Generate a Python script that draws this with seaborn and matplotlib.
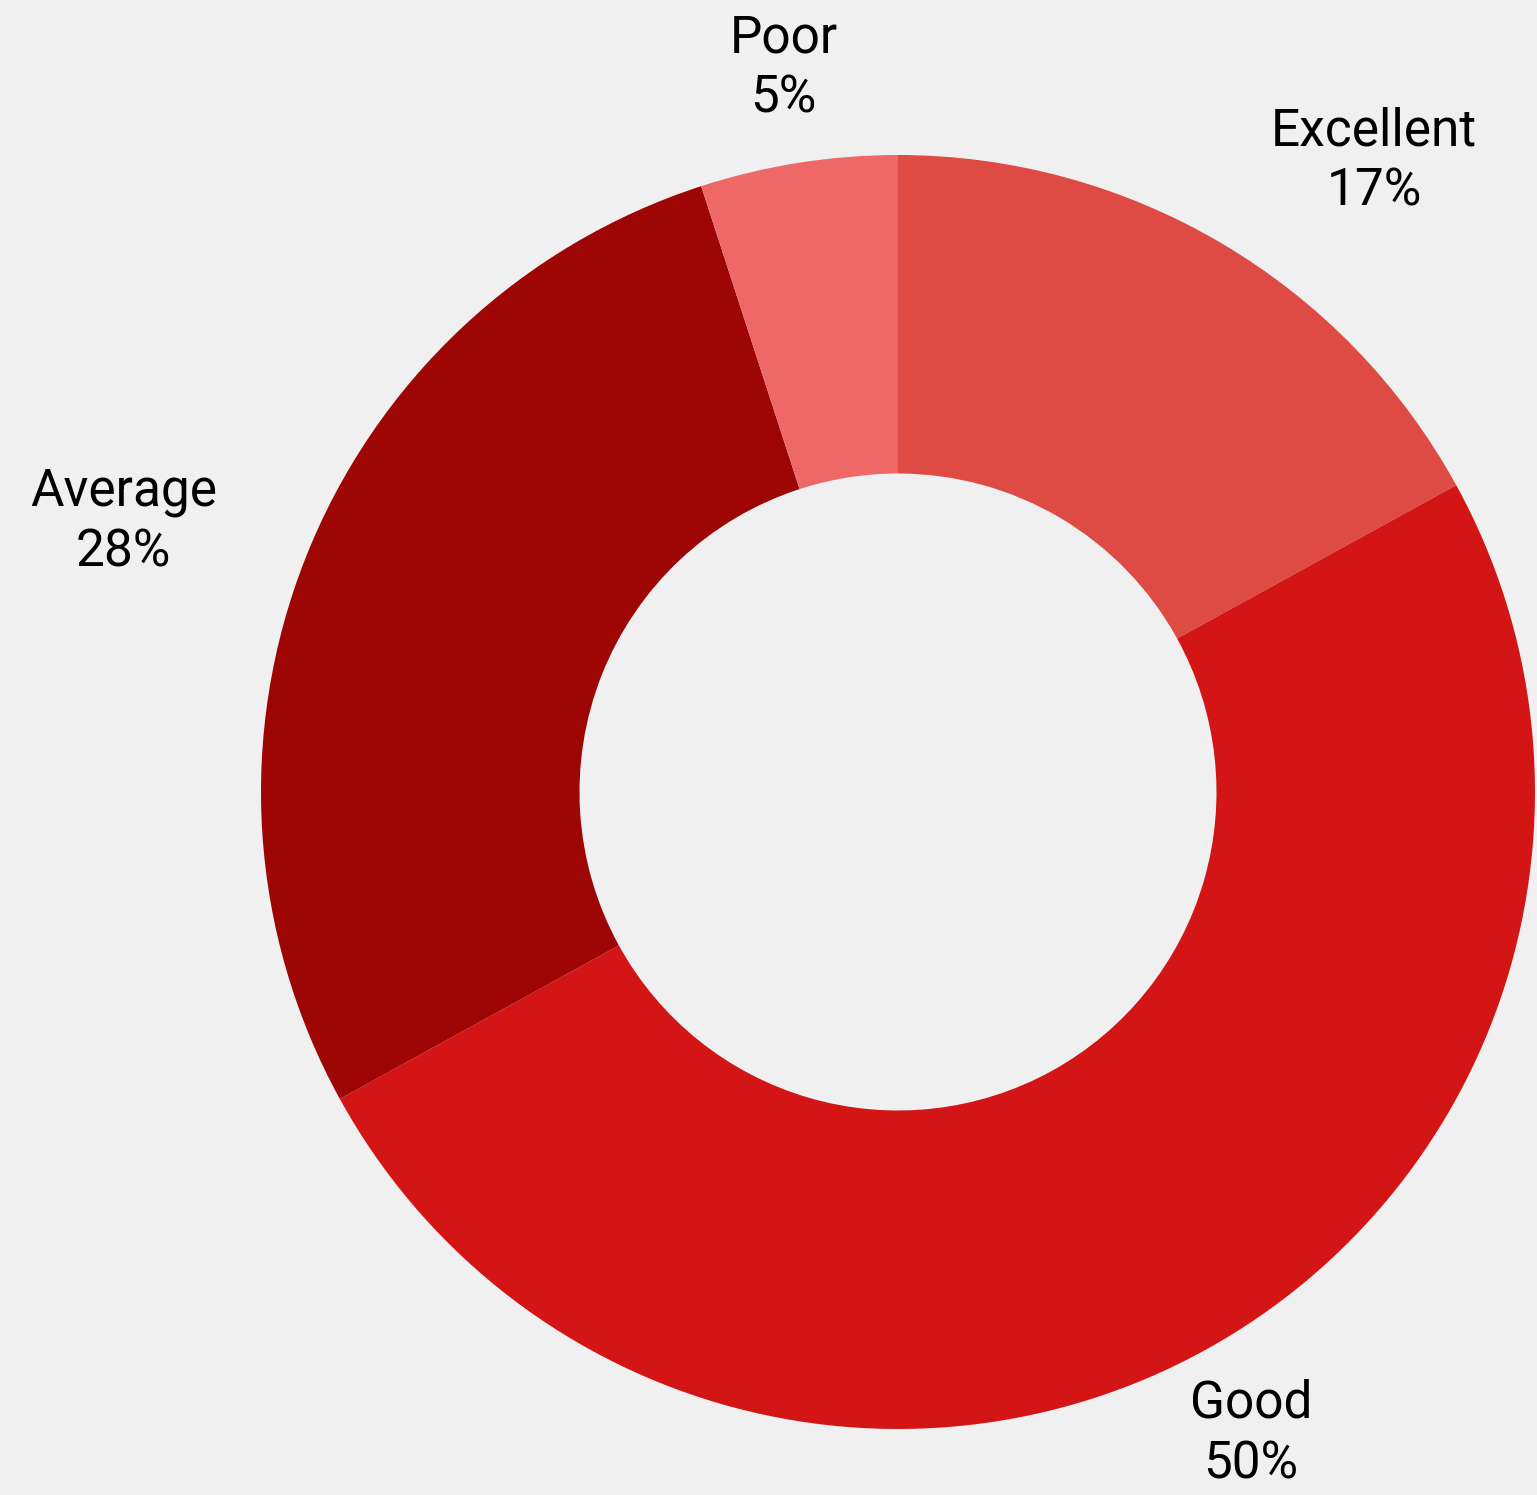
import numpy as np
import pandas as pd
import matplotlib
matplotlib.use("Agg")
import matplotlib.pyplot as plt
import seaborn as sns

# ── Data ───────────────────────────────────────────────────────────────────────
categories = ["Excellent", "Good", "Average", "Poor"]
shares     = [17, 50, 28, 5]
colors     = ["#DD4B44", "#D31515", "#9E0505", "#EF6868"]

BG = "#F0F0F0"

sns.set_theme(style="white")
plt.rcParams["font.family"] = ["Roboto", "DejaVu Sans"]

df = pd.DataFrame({"category": categories, "share": shares, "color": colors})

fig = plt.figure(figsize=(15.37, 14.95), dpi=100, facecolor=BG)
ax = fig.add_axes([0, 0, 1, 1])
ax.set_facecolor(BG)

wedges, _ = ax.pie(df["share"], colors=df["color"], startangle=90,
                   counterclock=False, radius=1.0,
                   wedgeprops={"width": 0.5, "linewidth": 0})

# outside labels, aligned by side
for w, cat, val in zip(wedges, df["category"], df["share"]):
    mid = np.deg2rad((w.theta1 + w.theta2) / 2)
    c, s = np.cos(mid), np.sin(mid)
    ha = "left" if c > 0.5 else ("right" if c < -0.5 else "center")
    ax.text(1.15 * c, 1.15 * s, f"{cat}\n{val}%", ha=ha, va="center",
            multialignment="center", fontsize=37, linespacing=1.27,
            color="black")

# place the pie like the reference (centre at ~898, 792 px)
scale = 637
cx, cy = 898, 792
W, H = 1537, 1495
ax.set_xlim(-cx / scale, (W - cx) / scale)
ax.set_ylim(-(H - cy) / scale, cy / scale)
ax.set_aspect("equal")
ax.axis("off")

fig.savefig("out.png", dpi=100, facecolor=BG)
